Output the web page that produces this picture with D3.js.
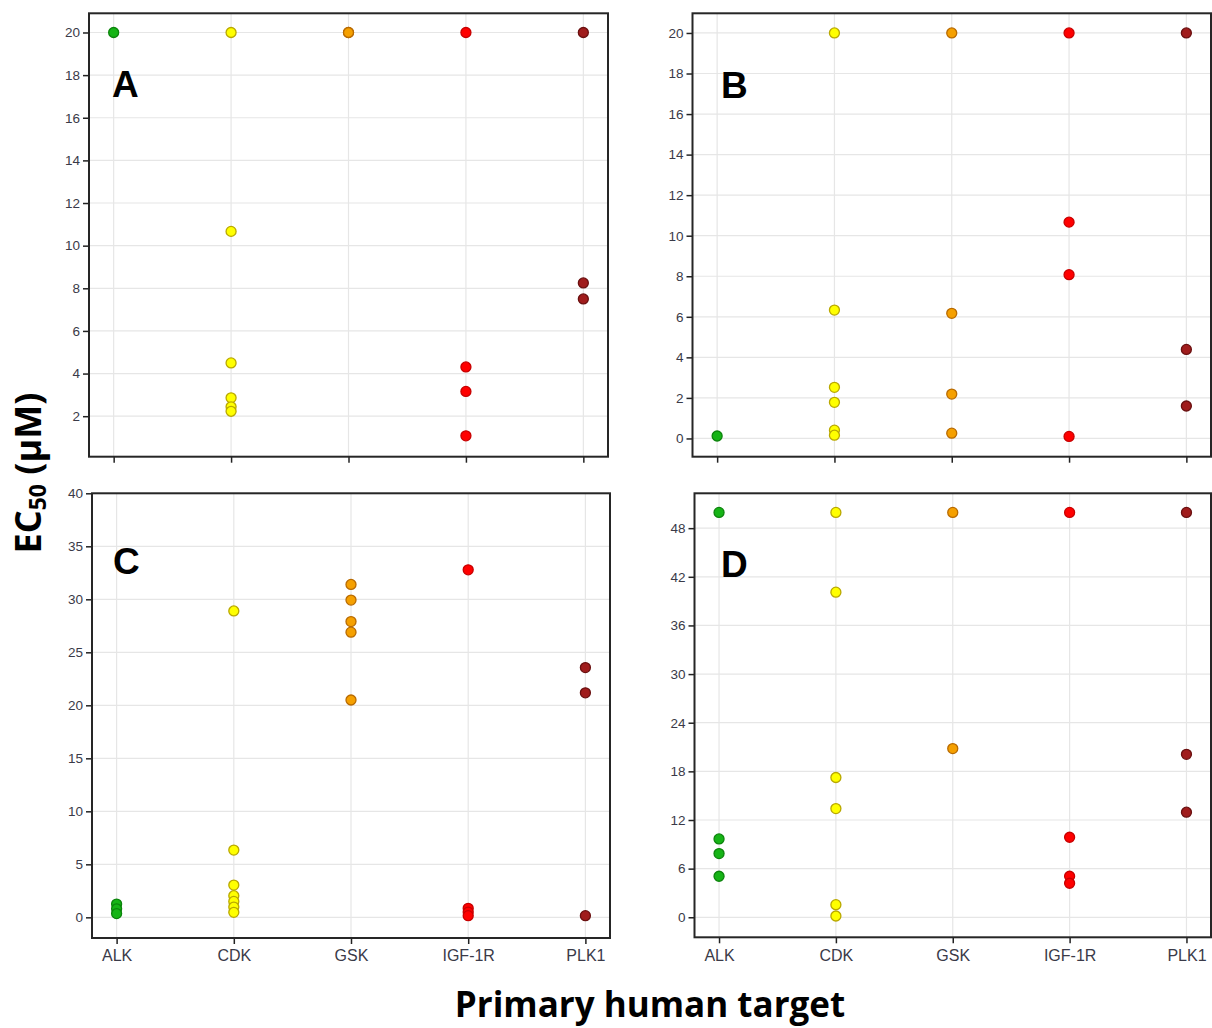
<!DOCTYPE html>
<html>
<head>
<meta charset="utf-8">
<script src="https://cdn.jsdelivr.net/npm/d3@7"></script>
<style>
  html, body { margin: 0; padding: 0; background: #fff; }
</style>
</head>
<body>
<script>
// ---------------------------------------------------------------------------
// Data
// ---------------------------------------------------------------------------

const TARGETS = ["ALK", "CDK", "GSK", "IGF-1R", "PLK1"];

// EC50 values (µM), one list per target, per panel.
const A_ALK = [20];
const A_CDK = [20, 10.67, 4.5, 2.86, 2.44, 2.23];
const A_GSK = [20, 20];
const A_IGF = [20, 4.31, 3.16, 1.08];
const A_PLK = [20, 8.25, 7.5];

const B_ALK = [0.12];
const B_CDK = [20, 6.33, 2.52, 1.78, 0.41, 0.16];
const B_GSK = [20, 6.17, 2.19, 0.26];
const B_IGF = [20, 10.67, 8.08, 0.1];
const B_PLK = [20, 4.39, 1.6];

const C_ALK = [1.25, 0.8, 0.35];
const C_CDK = [28.9, 6.34, 3.04, 2.04, 1.5, 0.97, 0.47];
const C_GSK = [31.4, 29.93, 27.9, 26.9, 20.5];
const C_IGF = [32.78, 0.85, 0.5, 0.16];
const C_PLK = [23.56, 21.18, 0.16];

const D_ALK = [49.94, 9.67, 7.86, 5.06];
const D_CDK = [49.94, 40.1, 17.24, 13.41, 1.56, 0.16];
const D_GSK = [49.94, 20.81];
const D_IGF = [49.94, 9.87, 5.06, 4.2];
const D_PLK = [49.94, 20.1, 12.96];

const A_TICKS = [2, 4, 6, 8, 10, 12, 14, 16, 18, 20];
const B_TICKS = [0, 2, 4, 6, 8, 10, 12, 14, 16, 18, 20];
const C_TICKS = [0, 5, 10, 15, 20, 25, 30, 35, 40];
const D_TICKS = [0, 6, 12, 18, 24, 30, 36, 42, 48];

// ---------------------------------------------------------------------------
// Config
// ---------------------------------------------------------------------------

const FILL = { "ALK": "#16b416", "CDK": "#ffff00", "GSK": "#f5a000", "IGF-1R": "#ff0000", "PLK1": "#a01c1c" };
const EDGE = { "ALK": "#0c840c", "CDK": "#b9a800", "GSK": "#b86a00", "IGF-1R": "#c80000", "PLK1": "#6a1010" };

const PANELS = [
  { name: "A", values: [A_ALK, A_CDK, A_GSK, A_IGF, A_PLK], ticks: A_TICKS, domain: [0.1, 20.9],
    box: [89, 608, 13.3, 456.7], label: [112, 97], xLabels: false },
  { name: "B", values: [B_ALK, B_CDK, B_GSK, B_IGF, B_PLK], ticks: B_TICKS, domain: [-0.9, 20.97],
    box: [692.5, 1211, 13.3, 456.7], label: [721, 98], xLabels: false },
  { name: "C", values: [C_ALK, C_CDK, C_GSK, C_IGF, C_PLK], ticks: C_TICKS, domain: [-1.95, 40],
    box: [92, 610, 493.3, 938], label: [113, 574], xLabels: true },
  { name: "D", values: [D_ALK, D_CDK, D_GSK, D_IGF, D_PLK], ticks: D_TICKS, domain: [-2.47, 52.3],
    box: [694.5, 1211, 493.3, 937.3], label: [721, 577], xLabels: true },
];

const width = 1212;
const height = 1028;

const svg = d3.select("body")
  .append("svg")
  .attr("width", width)
  .attr("height", height)
  .attr("font-family", "'Liberation Sans', Arial, sans-serif");

svg.append("rect").attr("width", width).attr("height", height).attr("fill", "#fff");

// ---------------------------------------------------------------------------
// Panels
// ---------------------------------------------------------------------------

for (const p of PANELS) {
  const [x0, x1, y0, y1] = p.box;
  const x = d3.scalePoint().domain(TARGETS).range([x0, x1]).padding(0.21);
  const y = d3.scaleLinear().domain(p.domain).range([y1, y0]);
  const g = svg.append("g");

  // Grid.
  g.append("g")
    .selectAll("line")
    .data(p.ticks)
    .join("line")
    .attr("x1", x0).attr("x2", x1)
    .attr("y1", (d) => y(d)).attr("y2", (d) => y(d))
    .attr("stroke", "#e6e6e6")
    .attr("stroke-width", 1.2);

  g.append("g")
    .selectAll("line")
    .data(TARGETS)
    .join("line")
    .attr("x1", (d) => x(d)).attr("x2", (d) => x(d))
    .attr("y1", y0).attr("y2", y1)
    .attr("stroke", "#e6e6e6")
    .attr("stroke-width", 1.2);

  // Axes.
  const yAxis = d3.axisLeft(y).tickValues(p.ticks).tickSize(6).tickPadding(3).tickFormat(d3.format("d"));
  const ya = g.append("g").attr("transform", `translate(${x0},0)`).call(yAxis);
  ya.select(".domain").remove();
  ya.selectAll(".tick line").attr("stroke", "#222").attr("stroke-width", 1.5);
  ya.selectAll(".tick text")
    .attr("font-size", 13.5)
    .attr("font-family", "'Liberation Sans', Arial, sans-serif")
    .attr("fill", "#3a3a48");

  const xAxis = d3.axisBottom(x).tickSize(6).tickPadding(6);
  const xa = g.append("g").attr("transform", `translate(0,${y1})`).call(xAxis);
  xa.select(".domain").remove();
  xa.selectAll(".tick line").attr("stroke", "#222").attr("stroke-width", 1.5);
  xa.selectAll(".tick text")
    .attr("font-size", 16)
    .attr("font-family", "'Liberation Sans', Arial, sans-serif")
    .attr("fill", "#3a3a48")
    .attr("display", p.xLabels ? null : "none");

  // Frame.
  g.append("rect")
    .attr("x", x0).attr("y", y0)
    .attr("width", x1 - x0).attr("height", y1 - y0)
    .attr("fill", "none")
    .attr("stroke", "#262626")
    .attr("stroke-width", 2);

  // Points.
  const pts = [];
  TARGETS.forEach((t, i) => p.values[i].forEach((v) => pts.push({ t, v })));
  g.append("g")
    .selectAll("circle")
    .data(pts)
    .join("circle")
    .attr("cx", (d) => x(d.t))
    .attr("cy", (d) => y(d.v))
    .attr("r", 5)
    .attr("fill", (d) => FILL[d.t])
    .attr("stroke", (d) => EDGE[d.t])
    .attr("stroke-width", 1.3);

  // Panel letter.
  g.append("text")
    .attr("x", p.label[0])
    .attr("y", p.label[1])
    .attr("font-size", 37)
    .attr("font-weight", "bold")
    .attr("fill", "#000")
    .text(p.name);
}

// ---------------------------------------------------------------------------
// Axis titles
// ---------------------------------------------------------------------------

const yTitle = svg.append("text")
  .attr("transform", "translate(41,473) rotate(-90)")
  .attr("text-anchor", "middle")
  .attr("font-family", "'Open Sans', 'Liberation Sans', sans-serif")
  .attr("font-size", 36)
  .attr("font-weight", "bold")
  .attr("fill", "#000");
yTitle.append("tspan").text("EC");
yTitle.append("tspan").attr("font-size", 23).attr("dy", 5).text("50");
yTitle.append("tspan").attr("dy", -5).text(" (µM)");

svg.append("text")
  .attr("x", 650)
  .attr("y", 1017)
  .attr("text-anchor", "middle")
  .attr("font-family", "'Open Sans', 'Liberation Sans', sans-serif")
  .attr("font-size", 35)
  .attr("font-weight", "bold")
  .attr("fill", "#000")
  .text("Primary human target");
</script>
</body>
</html>
